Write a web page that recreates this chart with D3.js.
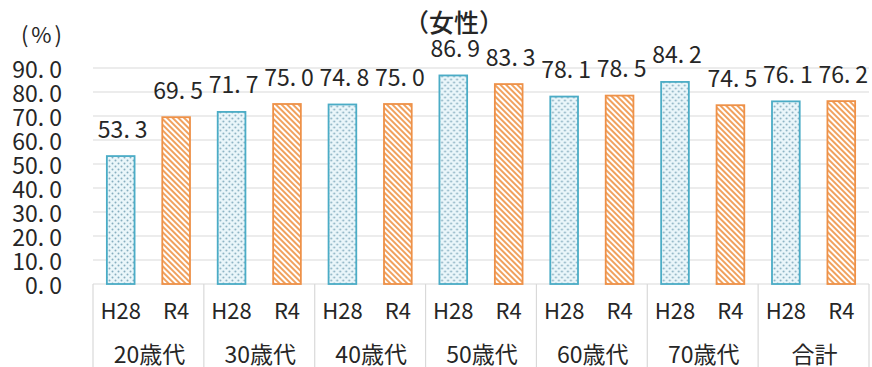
<!DOCTYPE html>
<html><head><meta charset="utf-8">
<script src="https://cdn.jsdelivr.net/npm/d3@7"></script>
<style>
html,body{margin:0;padding:0;background:#fff;}
text{font-family:"Noto Sans CJK JP","Noto Sans",sans-serif;fill:#262626;}
</style></head>
<body><svg id="c" width="872" height="367"></svg>
<script>
const categories = ["20歳代","30歳代","40歳代","50歳代","60歳代","70歳代","合計"];
const seriesNames = ["H28","R4"];
const h28 = [53.3,71.7,74.8,86.9,78.1,84.2,76.1];
const r4  = [69.5,75.0,75.0,83.3,78.5,74.5,76.2];
const yTicks = [0,10,20,30,40,50,60,70,80,90];
const title = "（女性）";
const unitLabel = "(%)";

(function(){
const svg = d3.select("#c");
const pLeft = 93, pRight = 869, pTop = 68, pBottom = 284;

const x0 = d3.scaleBand().domain(categories).range([pLeft,pRight]).padding(0);
const x1 = d3.scaleBand().domain(seriesNames).range([0,x0.bandwidth()]).paddingInner(0.5).paddingOuter(0.25);
const y = d3.scaleLinear().domain([0,90]).range([pBottom,pTop]);

const defs = svg.append("defs");
const dots = defs.append("pattern").attr("id","dots").attr("patternUnits","userSpaceOnUse").attr("width",6).attr("height",6);
dots.append("rect").attr("width",6).attr("height",6).attr("fill","#eaf6fa");
dots.append("circle").attr("cx",1.5).attr("cy",1.5).attr("r",1).attr("fill","#86aebf");
dots.append("circle").attr("cx",4.5).attr("cy",4.5).attr("r",1).attr("fill","#86aebf");
const stripes = defs.append("pattern").attr("id","stripes").attr("patternUnits","userSpaceOnUse").attr("width",4).attr("height",4).attr("patternTransform","rotate(-45)");
stripes.append("rect").attr("width",4).attr("height",4).attr("fill","#fff");
stripes.append("rect").attr("width",2).attr("height",4).attr("fill","#f0a15e");

svg.append("g").selectAll("line").data(yTicks).join("line")
  .attr("x1",pLeft).attr("x2",pRight).attr("y1",d=>y(d)).attr("y2",d=>y(d))
  .attr("stroke","#d9d9d9").attr("stroke-width",1.2);

const bounds = categories.map(c=>x0(c)).concat([pRight]);
svg.append("g").selectAll("line").data(bounds).join("line")
  .attr("x1",d=>d).attr("x2",d=>d).attr("y1",pBottom).attr("y2",367)
  .attr("stroke","#d9d9d9").attr("stroke-width",1.2);

function numText(sel, v){
  const s = v.toFixed(1).split(".");
  sel.text(s[0]+".").append("tspan").attr("dx",5).text(s[1]);
}
svg.append("g").selectAll("text").data(yTicks).join("text")
  .attr("x",62).attr("y",d=>y(d)+10).attr("text-anchor","end").attr("font-size",23)
  .each(function(d){numText(d3.select(this),d);});

const rows = categories.map((c,i)=>({c, vals:[{s:"H28",v:h28[i]},{s:"R4",v:r4[i]}]}));
const g = svg.append("g").selectAll("g").data(rows).join("g").attr("transform",d=>`translate(${x0(d.c)},0)`);
g.selectAll("rect").data(d=>d.vals).join("rect")
  .attr("x",d=>x1(d.s)).attr("width",x1.bandwidth())
  .attr("y",d=>y(d.v)).attr("height",d=>y(0)-y(d.v))
  .attr("fill",d=>d.s==="H28"?"url(#dots)":"url(#stripes)")
  .attr("stroke",d=>d.s==="H28"?"#4bacc6":"#ee9148").attr("stroke-width",1.8);
g.selectAll("text.v").data(d=>d.vals).join("text").attr("class","v")
  .attr("x",d=>x1(d.s)+x1.bandwidth()/2+2).attr("y",d=>y(d.v)-18.5)
  .attr("text-anchor","middle").attr("font-size",23)
  .each(function(d){numText(d3.select(this),d.v);});
g.selectAll("text.s").data(d=>d.vals).join("text").attr("class","s")
  .attr("x",d=>x1(d.s)+x1.bandwidth()/2).attr("y",319)
  .attr("text-anchor","middle").attr("font-size",22).text(d=>d.s);
g.append("text").attr("x",x0.bandwidth()/2+1).attr("y",363)
  .attr("text-anchor","middle").attr("font-size",23).text(d=>d.c);

svg.append("text").attr("x",454).attr("y",32).attr("text-anchor","middle")
  .attr("font-size",25).attr("font-weight",500).text(title);
svg.append("text").attr("x",43).attr("y",43).attr("text-anchor","middle")
  .attr("font-size",22).attr("letter-spacing",3).attr("fill","#404040").text(unitLabel);
})();
</script></body></html>
